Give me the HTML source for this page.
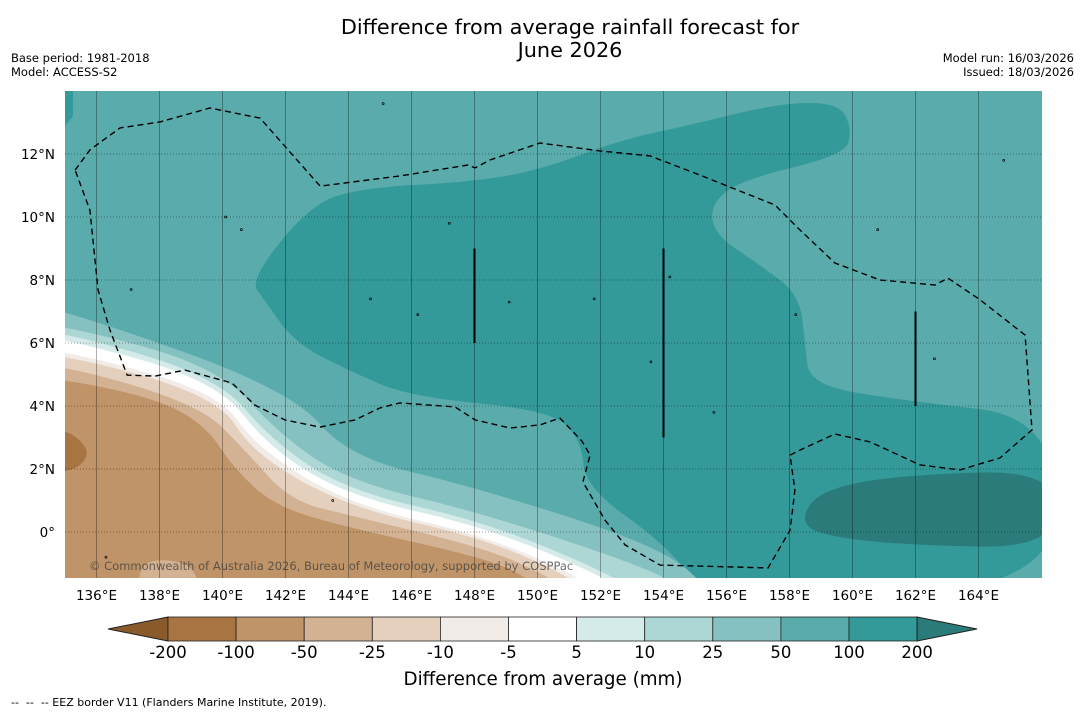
<!DOCTYPE html>
<html><head><meta charset="utf-8">
<style>
body{margin:0;width:1085px;height:713px;background:#fff;overflow:hidden;font-family:"DejaVu Sans","Liberation Sans",sans-serif;}
svg{position:absolute;left:0;top:0;}
</style></head>
<body>
<svg id="chart" width="1085" height="713" xmlns="http://www.w3.org/2000/svg">
<text x="570" y="34" font-size="20.8" text-anchor="middle">Difference from average rainfall forecast for</text>
<text x="570" y="57" font-size="20.8" text-anchor="middle">June 2026</text>
<text x="11" y="62" font-size="11.5">Base period: 1981-2018</text>
<text x="11" y="76" font-size="11.5">Model: ACCESS-S2</text>
<text x="1074" y="62" font-size="11.5" text-anchor="end">Model run: 16/03/2026</text>
<text x="1074" y="76" font-size="11.5" text-anchor="end">Issued: 18/03/2026</text>
<defs><clipPath id="mapclip"><rect x="65" y="91" width="977" height="487"/></clipPath></defs>
<g id="map" clip-path="url(#mapclip)"></g>
<g id="axes"></g>
<g id="cbar"></g>
<text x="543" y="685" font-size="18.3" text-anchor="middle">Difference from average (mm)</text>
<text x="11" y="706" font-size="11" style="white-space:pre">--  --  -- EEZ border V11 (Flanders Marine Institute, 2019).</text>
</svg>
<script>
const lonTicks=[136,138,140,142,144,146,148,150,152,154,156,158,160,162,164];
const latTicks=[0,2,4,6,8,10,12];
const cbLevels=["-200","-100","-50","-25","-10","-5","5","10","25","50","100","200"];
const cbColors=["#a87441","#bf9468","#d3b294","#e4d0bd","#f1ece8","#ffffff","#d5ebe9","#acd7d5","#85c1c0","#5aabab","#339999"];
const region100=[[140.87,8.0],[142.78,10.38],[144.37,10.92],[147.86,11.11],[150.08,11.49],[152.62,12.44],[154.84,12.92],[157.7,13.62],[159.6,13.62],[159.98,12.76],[159.76,11.97],[156.43,11.17],[155.48,10.38],[155.63,9.43],[157.06,8.48],[158.33,7.52],[158.49,5.94],[158.65,4.67],[161.51,4.19],[166.5,3.62],[166.5,-2],[155.3,-2],[154.05,-0.38],[151.51,1.43],[151.41,2.89],[150.43,3.87],[145.95,4.29],[143.98,5.14],[142.3,6.0],[141.32,7.37]];
const region100b=[[134,14.5],[135.25,14.5],[135.25,13.2],[135.0,12.9],[134,12.9]];
const region200=[[158.33,0.38],[158.97,1.33],[161.51,1.81],[166.5,1.97],[166.5,-0.51],[161.51,-0.41],[158.97,-0.1]];
const b25=[[134,7.2],[135,7.05],[142.17,4.51],[143.98,2.38],[148.02,1.43],[154.05,-0.51],[155.6,-2]];
const b10=[[134,6.6],[135,6.57],[139.86,5.24],[141.79,3.11],[143.98,1.62],[148.37,0.57],[154.05,-1.33],[154.6,-2]];
const b5=[[134,6.4],[135,6.35],[139.86,4.92],[141.57,2.89],[143.98,1.30],[148.37,0.32],[152.6,-1.46],[153.0,-2]];
const bm5=[[134,6.2],[135,6.16],[139.86,4.76],[141.44,2.70],[143.98,1.14],[148.37,0.16],[152.3,-1.5],[152.7,-2]];
const bm10=[[134,5.8],[135,5.78],[139.86,4.44],[141.06,2.70],[143.98,0.89],[148.37,-0.13],[151.5,-1.5],[151.8,-2]];
const bm25=[[134,5.65],[135,5.65],[139.86,4.29],[140.97,2.48],[143.98,0.79],[148.37,-0.22],[151.2,-1.5],[151.5,-2]];
const bm50=[[134,5.3],[135,5.3],[139.29,4.03],[140.71,2.6],[142.14,1.0],[143.98,0.54],[148.37,-0.51],[150.56,-1.5],[150.9,-2]];
const bm100=[[134,4.9],[135,4.86],[138.05,4.19],[139.5,3.33],[140.33,2.06],[141.57,0.89],[143.5,0.25],[148.37,-0.83],[149.8,-1.5],[150.1,-2]];
const blobLight=[[137.3,-2],[137.4,-1.0],[138.2,-0.85],[139.1,-1.1],[139.3,-2]];
const blob200=[[134,3.3],[135.0,3.24],[135.5,2.9],[135.75,2.5],[135.5,2.1],[135.0,1.9],[134,1.9]];
const eez=[[135.32,11.49],[135.79,12.13],[136.75,12.83],[138.02,13.02],[139.6,13.46],[141.19,13.14],[143.1,10.98],[145.63,11.3],[147.79,11.65],[148.02,11.56],[148.49,11.81],[150.08,12.35],[151.98,12.1],[153.57,11.94],[155.16,11.33],[156.11,10.95],[157.54,10.38],[158.33,9.59],[159.44,8.54],[160.87,8.0],[162.62,7.84],[163.03,8.06],[164.05,7.37],[165.48,6.25],[165.7,3.24],[164.68,2.35],[163.41,1.97],[162.14,2.13],[160.56,2.86],[159.44,3.11],[158.33,2.6],[158.02,2.44],[158.17,1.33],[158.02,0.06],[157.32,-1.14],[153.89,-1.05],[152.78,-0.41],[152.14,0.38],[151.44,1.59],[151.67,2.44],[151.41,2.89],[150.71,3.62],[150.08,3.4],[149.13,3.3],[148.02,3.56],[147.38,3.97],[145.63,4.1],[145.0,3.94],[144.21,3.56],[143.1,3.33],[141.98,3.56],[141.03,4.03],[140.3,4.73],[138.81,5.14],[137.86,4.95],[136.97,4.98],[136.43,6.41],[136.05,7.68],[135.79,10.22],[135.32,11.49]];
const vLines=[[148,6,9],[154,3,9],[162,4,7]];
const islands=[[145.1,13.6],[147.2,9.8],[137.1,7.7],[144.7,7.4],[146.2,6.9],[149.1,7.3],[151.8,7.4],[154.2,8.1],[158.2,6.9],[153.6,5.4],[162.6,5.5],[155.6,3.8],[140.1,10.0],[140.6,9.6],[164.8,11.8],[167.2,11.8],[160.8,9.6],[143.5,1.0],[136.3,-0.8]];

const NS="http://www.w3.org/2000/svg";
const X=lon=>65+(lon-135)*31.5;
const Y=lat=>91+(14-lat)*31.5;
const map=document.getElementById('map');
function mk(tag,attrs,parent){const e=document.createElementNS(NS,tag);for(const k in attrs)e.setAttribute(k,attrs[k]);parent.appendChild(e);return e;}
function ptsStr(arr){return arr.map(p=>X(p[0]).toFixed(1)+','+Y(p[1]).toFixed(1)).join(' ');}
function smooth(arr,closed){
  const P=arr.map(p=>[X(p[0]),Y(p[1])]);
  const n=P.length;
  if(closed){
    const m=i=>{const a=P[(i+n)%n],b=P[(i+1)%n];return[(a[0]+b[0])/2,(a[1]+b[1])/2];};
    let d='M'+m(0).join(',');
    for(let i=1;i<=n;i++){const c=P[i%n],e=m(i);d+=' Q'+c[0].toFixed(1)+','+c[1].toFixed(1)+' '+e[0].toFixed(1)+','+e[1].toFixed(1);}
    return d+'Z';
  }
  let d='M'+P[0].join(',');
  for(let i=1;i<n-1;i++){const c=P[i],e=[(P[i][0]+P[i+1][0])/2,(P[i][1]+P[i+1][1])/2];d+=' Q'+c[0].toFixed(1)+','+c[1].toFixed(1)+' '+e[0].toFixed(1)+','+e[1].toFixed(1);}
  d+=' L'+P[n-1].join(',');
  return d;
}
function bandPath(b){return smooth(b,false)+' L'+X(b[b.length-1][0])+','+Y(-3)+' L'+X(134)+','+Y(-3)+'Z';}

let e=mk('rect',{x:65,y:91,width:977,height:487,fill:'#5aabab'},map);


e=mk('path',{d:smooth(region100,true),fill:'#339999'},map);


e=mk('polygon',{points:ptsStr(region100b),fill:'#339999'},map);


e=mk('path',{d:smooth(region200,true),fill:'#2a7b7a'},map);


const bands=[[b25,'#85c1c0','band-25-50'],[b10,'#acd7d5','band-10-25'],[b5,'#d5ebe9','band-5-10'],[bm5,'#ffffff','band-neutral'],[bm10,'#f1ece8','band-minus5-minus10'],[bm25,'#e4d0bd','band-minus10-minus25'],[bm50,'#d3b294','band-minus25-minus50'],[bm100,'#bf9468','band-minus50-minus100']];
bands.forEach(b=>{const p=mk('path',{d:bandPath(b[0]),fill:b[1]},map);

});
e=mk('path',{d:smooth(blobLight,true),fill:'#d3b294'},map);


e=mk('path',{d:smooth(blob200,true),fill:'#a87441'},map);


lonTicks.forEach(l=>{const g=mk('line',{x1:X(l),x2:X(l),y1:91,y2:578,stroke:'rgba(0,0,0,0.4)','stroke-width':0.8},map);

});
latTicks.forEach(l=>{const g=mk('line',{x1:65,x2:1042,y1:Y(l),y2:Y(l),stroke:'rgba(0,0,0,0.5)','stroke-width':0.8,'stroke-dasharray':'1,2'},map);

});
e=mk('polyline',{points:ptsStr(eez),fill:'none',stroke:'#000','stroke-width':1.4,'stroke-dasharray':'6,4'},map);


vLines.forEach(v=>{const l=mk('line',{x1:X(v[0]),x2:X(v[0]),y1:Y(v[2]),y2:Y(v[1]),stroke:'#000','stroke-width':2},map);

});
islands.forEach(p=>{const c=mk('circle',{cx:X(p[0]),cy:Y(p[1]),r:1,fill:'none',stroke:'#000','stroke-width':0.7},map);

});
e=mk('text',{x:89,y:570,'font-size':11.5,fill:'rgba(60,60,60,0.75)'},map);
e.textContent='© Commonwealth of Australia 2026, Bureau of Meteorology, supported by COSPPac';



const axes=document.getElementById('axes');
lonTicks.forEach(l=>{const t=mk('text',{x:X(l),y:600,'font-size':13.5,'text-anchor':'middle'},axes);t.textContent=l+'°E';

});
latTicks.forEach(l=>{const t=mk('text',{x:55,y:Y(l)+5,'font-size':13.5,'text-anchor':'end'},axes);t.textContent=l===0?'0°':l+'°N';

});

const cb=document.getElementById('cbar');
const cx0=168,cw=68.1,cy0=617,ch=24;
e=mk('polygon',{points:`${cx0},${cy0} ${cx0},${cy0+ch} 108,${cy0+ch/2}`,fill:'#8b5a2b',stroke:'#222','stroke-width':1},cb);


cbColors.forEach((c,i)=>{const r=mk('rect',{x:cx0+i*cw,y:cy0,width:cw,height:ch,fill:c,stroke:'#222','stroke-width':0.8},cb);

});
const xe=cx0+cbColors.length*cw;
e=mk('polygon',{points:`${xe},${cy0} ${xe},${cy0+ch} 977,${cy0+ch/2}`,fill:'#2a7b7a',stroke:'#222','stroke-width':1},cb);


cbLevels.forEach((lv,i)=>{const t=mk('text',{x:cx0+i*cw,y:658,'font-size':16.5,'text-anchor':'middle'},cb);t.textContent=lv;

});
</script>
</body></html>
